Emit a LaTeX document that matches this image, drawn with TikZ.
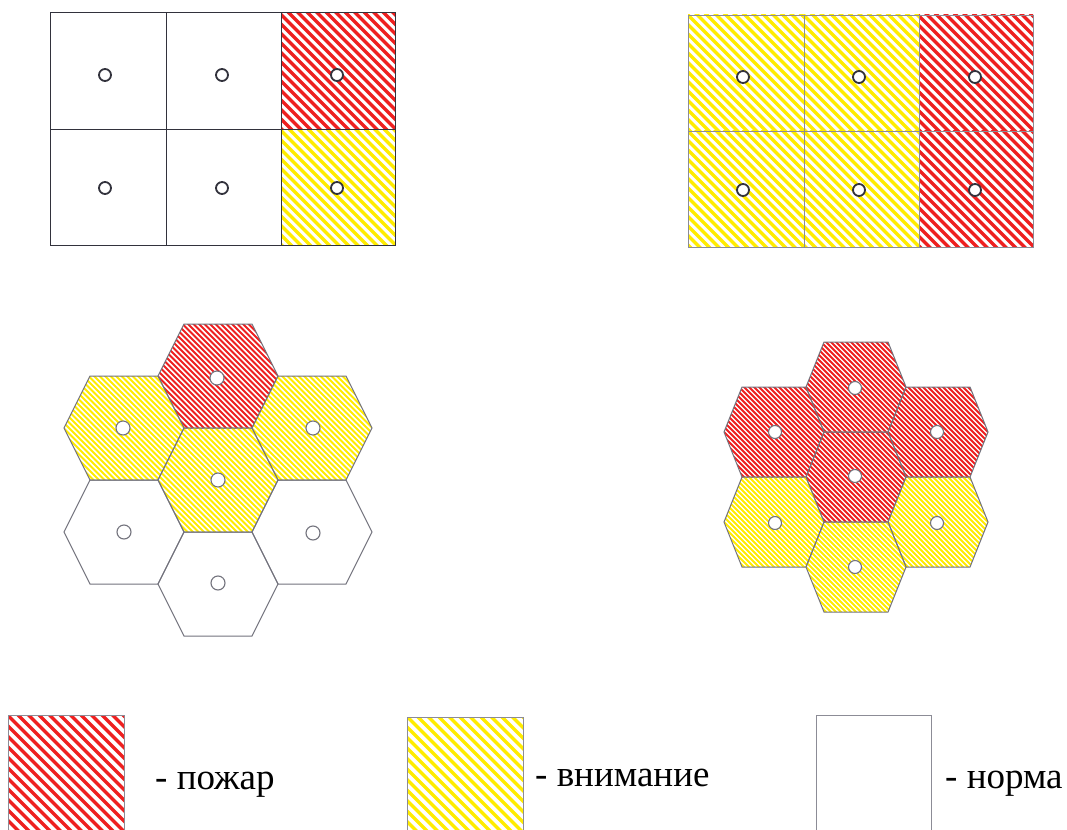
\documentclass[tikz,border=0pt]{standalone}
\usepackage{fontspec}
\setmainfont{Liberation Serif}
\definecolor{fire}{RGB}{238,32,32}
\definecolor{warn}{RGB}{255,236,0}
\definecolor{gridA}{RGB}{50,50,60}
\definecolor{gridB}{RGB}{140,140,150}
\definecolor{hexline}{RGB}{115,115,125}
\tikzset{
  firesq/.style={draw=fire,line width=3.3pt},
  warnsq/.style={draw=warn,line width=3.3pt},
  firehex/.style={draw=fire,line width=2pt},
  warnhex/.style={draw=warn,line width=2pt},
  nohatch/.style={draw=none},
  gridlineA/.style={draw=gridA,line width=1pt},
  gridlineB/.style={draw=gridB,line width=0.9pt},
  hexedge/.style={draw=hexline,line width=1pt},
  sqsensor/.style={circle,draw=gridA,line width=1.8pt,fill=white,minimum size=12pt,inner sep=0pt},
  hexsensor/.style={circle,draw=hexline,line width=1.1pt,fill=white,minimum size=14pt,inner sep=0pt},
  legtext/.style={inner sep=0pt,anchor=base west,font=\fontsize{37}{40}\selectfont},
}
% hatch lines "\" : cx cy R style step N
\newcommand\hatch[6]{%
  \foreach \i in {-#6,...,#6}{\draw[#4] ({#1+\i*#5-#3},{#2-#3}) -- ++({2*#3},{2*#3});}}
% square cell: x0 y0 x1 y1 style step
\newcommand\sqcell[6]{%
  \begin{scope}
    \clip (#1,#2) rectangle (#3,#4);
    \hatch{(#1+#3)/2}{(#2+#4)/2}{62}{#5}{#6}{14}
  \end{scope}}
% hex cell: cx cy a b h style step
\newcommand\hexcell[7]{%
  \begin{scope}
    \clip (#1-#3,#2) -- (#1-#4,#2-#5) -- (#1+#4,#2-#5) -- (#1+#3,#2) -- (#1+#4,#2+#5) -- (#1-#4,#2+#5) -- cycle;
    \hatch{#1}{#2}{#3+2}{#6}{#7}{24}
  \end{scope}
  \draw[hexedge] (#1-#3,#2) -- (#1-#4,#2-#5) -- (#1+#4,#2-#5) -- (#1+#3,#2) -- (#1+#4,#2+#5) -- (#1-#4,#2+#5) -- cycle;}
\begin{document}
\begin{tikzpicture}[x=1pt,y=-1pt]
\useasboundingbox (0,0) rectangle (1067,829);
\fill[white] (0,0) rectangle (1067,829);

% ---------- top-left grid ----------
\sqcell{281}{13}{395}{130}{firesq}{9.5}
\sqcell{281}{130}{395}{245}{warnsq}{9.5}
\draw[gridlineA] (50,13) rectangle (395,245);
\draw[gridlineA] (166,13) -- (166,245);
\draw[gridlineA] (281,13) -- (281,245);
\draw[gridlineA] (50,130) -- (395,130);
\node[sqsensor] (a11) at (105,75) {};
\node[sqsensor] (a12) at (222,75) {};
\node[sqsensor] (a13) at (337,75) {};
\node[sqsensor] (a21) at (105,188) {};
\node[sqsensor] (a22) at (222,188) {};
\node[sqsensor] (a23) at (337,188) {};

% ---------- top-right grid ----------
\sqcell{688}{15}{804}{131}{warnsq}{9.5}
\sqcell{804}{15}{919}{131}{warnsq}{9.5}
\sqcell{919}{15}{1033}{131}{firesq}{9.5}
\sqcell{688}{131}{804}{247}{warnsq}{9.5}
\sqcell{804}{131}{919}{247}{warnsq}{9.5}
\sqcell{919}{131}{1033}{247}{firesq}{9.5}
\draw[gridlineB] (688,15) rectangle (1033,247);
\draw[gridlineB] (804,15) -- (804,247);
\draw[gridlineB] (919,15) -- (919,247);
\draw[gridlineB] (688,131) -- (1033,131);
\node[sqsensor] (b11) at (743,77) {};
\node[sqsensor] (b12) at (859,77) {};
\node[sqsensor] (b13) at (975,77) {};
\node[sqsensor] (b21) at (743,190) {};
\node[sqsensor] (b22) at (859,190) {};
\node[sqsensor] (b23) at (975,190) {};

% ---------- left hex cluster ----------
\hexcell{218}{376}{60}{34}{52}{firehex}{5.5}
\hexcell{124}{428}{60}{34}{52}{warnhex}{5.5}
\hexcell{312}{428}{60}{34}{52}{warnhex}{5.5}
\hexcell{218}{480}{60}{34}{52}{warnhex}{5.5}
\hexcell{124}{532}{60}{34}{52}{nohatch}{5.5}
\hexcell{312}{532}{60}{34}{52}{nohatch}{5.5}
\hexcell{218}{584}{60}{34}{52}{nohatch}{5.5}
\node[hexsensor] (h1) at (217,378) {};
\node[hexsensor] (h2) at (123,428) {};
\node[hexsensor] (h3) at (313,428) {};
\node[hexsensor] (h4) at (218,480) {};
\node[hexsensor] (h5) at (124,532) {};
\node[hexsensor] (h6) at (313,533) {};
\node[hexsensor] (h7) at (218,583) {};

% ---------- right hex cluster ----------
\hexcell{856}{387}{50}{32}{45}{firehex}{5}
\hexcell{774}{432}{50}{32}{45}{firehex}{5}
\hexcell{938}{432}{50}{32}{45}{firehex}{5}
\hexcell{856}{477}{50}{32}{45}{firehex}{5}
\hexcell{774}{522}{50}{32}{45}{warnhex}{5}
\hexcell{938}{522}{50}{32}{45}{warnhex}{5}
\hexcell{856}{567}{50}{32}{45}{warnhex}{5}
\node[hexsensor,minimum size=13pt] (k1) at (855,388) {};
\node[hexsensor,minimum size=13pt] (k2) at (775,432) {};
\node[hexsensor,minimum size=13pt] (k3) at (937,432) {};
\node[hexsensor,minimum size=13pt] (k4) at (855,476) {};
\node[hexsensor,minimum size=13pt] (k5) at (775,523) {};
\node[hexsensor,minimum size=13pt] (k6) at (937,523) {};
\node[hexsensor,minimum size=13pt] (k7) at (855,567) {};

% ---------- legend ----------
\sqcell{8}{715}{124}{832}{firesq}{10.5}
\draw[gridlineB] (8,832) -- (8,715) -- (124,715) -- (124,832);
\node[legtext] (l1) at (155,789) {- пожар};

\sqcell{407}{717}{523}{832}{warnsq}{10.5}
\draw[gridlineB] (407,832) -- (407,717) -- (523,717) -- (523,832);
\node[legtext] (l2) at (535,786) {- внимание};

\draw[gridlineB] (816,832) -- (816,715) -- (931,715) -- (931,832);
\node[legtext] (l3) at (945,788) {- норма};
\end{tikzpicture}
\end{document}
